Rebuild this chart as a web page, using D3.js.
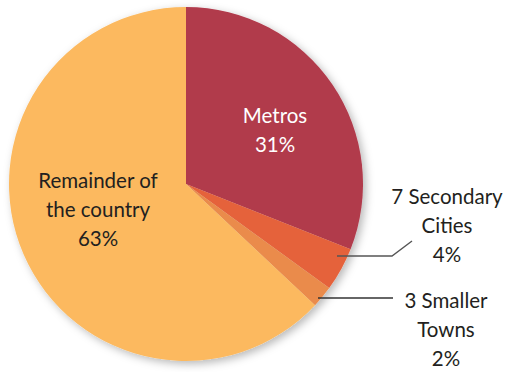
<!DOCTYPE html>
<html>
<head>
<meta charset="utf-8">
<script src="https://cdn.jsdelivr.net/npm/d3@7"></script>
<style>
  html, body { margin: 0; padding: 0; background: #fff; }
  svg { display: block; }
  text { font-family: Lato, "Open Sans", sans-serif; }
</style>
</head>
<body>
<svg id="chart" width="508" height="372"></svg>
<script>
// Population share by settlement type
const categories = ["Metros", "7 Secondary Cities", "3 Smaller Towns", "Remainder of the country"];
const shares = [31, 4, 2, 63];
const colors = ["#b13a4b", "#e5623b", "#ea8b4b", "#fcb95f"];

const width = 508, height = 372;
const cx = 186, cy = 184, radius = 177;

const svg = d3.select("#chart");

const defs = svg.append("defs");
const shadow = defs.append("filter").attr("id", "pieShadow")
  .attr("x", "-10%").attr("y", "-10%").attr("width", "120%").attr("height", "120%");
shadow.append("feDropShadow")
  .attr("dx", 3).attr("dy", 3).attr("stdDeviation", 4)
  .attr("flood-color", "#000").attr("flood-opacity", 0.28);

const data = categories.map((c, i) => ({ name: c, value: shares[i], color: colors[i] }));

const pie = d3.pie().value(d => d.value).sort(null);
const arc = d3.arc().innerRadius(0).outerRadius(radius);

const g = svg.append("g").attr("transform", `translate(${cx},${cy})`);

g.append("g").attr("filter", "url(#pieShadow)")
  .selectAll("path")
  .data(pie(data))
  .join("path")
  .attr("d", arc)
  .attr("fill", d => d.data.color);

// Multi-line centred label block
const fontSize = 20.5;
function block(x, y, lines, fill) {
  const t = svg.append("text")
    .attr("text-anchor", "middle")
    .attr("font-size", fontSize)
    .attr("fill", fill);
  lines.forEach((s, i) => {
    t.append("tspan").attr("x", x).attr("y", y + i * 29).text(s);
  });
}

// In-slice labels
block(275, 123, ["Metros", "31%"], "#ffffff");
block(98, 188, ["Remainder of", "the country", "63%"], "#231f20");

// Callout labels for the two small slices
block(447, 204, ["7 Secondary", "Cities", "4%"], "#231f20");
block(446, 308, ["3 Smaller", "Towns", "2%"], "#231f20");

// Leader lines
svg.append("polyline")
  .attr("points", "337,256 392,256 412,241")
  .attr("fill", "none").attr("stroke", "#555").attr("stroke-width", 1.4);
svg.append("line")
  .attr("x1", 318).attr("y1", 298).attr("x2", 393).attr("y2", 298)
  .attr("stroke", "#333").attr("stroke-width", 1.4);
</script>
</body>
</html>
